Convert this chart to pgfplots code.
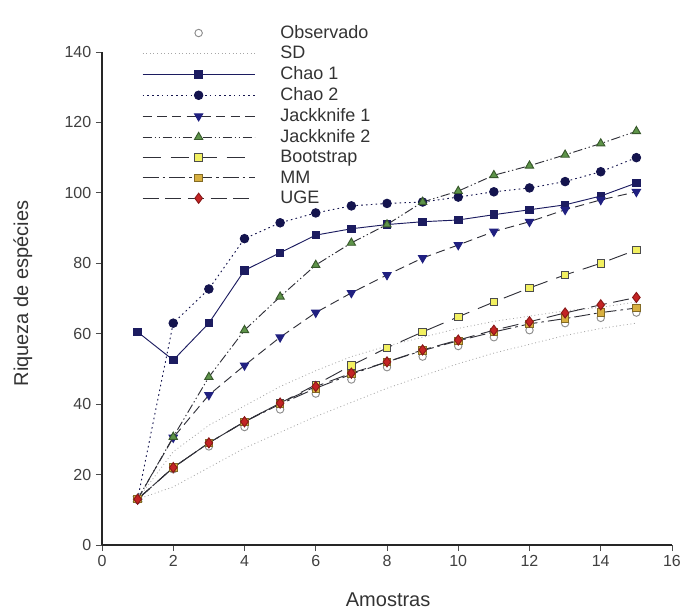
\documentclass[border=0pt]{standalone}
\usepackage{pgfplots}
\pgfplotsset{compat=1.18}
\usepackage{fontspec}
\setmainfont{Liberation Sans}

% series colours
\definecolor{navyA}{HTML}{1C1C60}
\definecolor{navyB}{HTML}{14144E}
\definecolor{jackblue}{HTML}{202080}
\definecolor{jackgreen}{HTML}{5E9449}
\definecolor{bootyel}{HTML}{F2F060}
\definecolor{mmgold}{HTML}{D8B040}
\definecolor{ugered}{HTML}{C42424}
\definecolor{linegray}{HTML}{303038}

\begin{document}
\begin{tikzpicture}
\useasboundingbox (-76.5pt,-52.5pt) rectangle (438pt,408.75pt);
\begin{axis}[
    scale only axis,
    width=427.5pt, height=369.75pt,
    xmin=0, xmax=16, ymin=0, ymax=140,
    xtick={0,2,...,16}, ytick={0,20,...,140},
    axis x line=bottom, axis y line=left,
    axis line style={-, line width=1pt, black!85},
    tick align=outside, major tick length=4.5pt,
    tick style={black!70, line width=0.6pt},
    tick label style={font=\fontsize{12}{14}\selectfont, text=black!75},
    /pgf/number format/assume math mode=true,
    xlabel={Amostras}, ylabel={Riqueza de espécies},
    every axis x label/.style={at={(axis description cs:0.502,-0.111)}, anchor=center,
        font=\fontsize{15}{17}\selectfont, text=black!80},
    every axis y label/.style={at={(axis description cs:-0.139,0.51)}, anchor=center, rotate=90,
        font=\fontsize{15}{17}\selectfont, text=black!80},
    clip=false,
    every axis plot/.append style={line width=0.7pt},
    legend image code/.code={\draw[mark repeat=2,mark phase=2,#1] plot coordinates {(0pt,0pt) (42pt,0pt) (84pt,0pt)};},
    legend style={at={(axis description cs:0.07,1.057)}, anchor=north west,
        draw=none, fill=none, inner sep=0pt, row sep=2.4pt, column sep=18pt,
        font=\fontsize{13.5}{14}\selectfont, text=black!80,
        nodes={inner sep=1pt}},
    legend cell align=left,
]
% Observado
\addplot[only marks, mark=o, mark size=2.8pt, black!45] coordinates {
    (1,13) (2,21.5) (3,28) (4,33.5) (5,38.5) (6,43) (7,47) (8,50.5) (9,53.5) (10,56.5) (11,59) (12,61) (13,63) (14,64.5) (15,66)
};
% SD (lower and upper)
\addplot[black!35, dotted, line width=0.6pt, mark=none] coordinates {
    (1,13) (2,16.5) (3,22) (4,27.5) (5,32) (6,36.5) (7,40.5) (8,44.5) (9,48) (10,51.5) (11,54.5) (12,57) (13,59.5) (14,61.5) (15,63)
};
\addplot[black!35, dotted, line width=0.6pt, mark=none, forget plot] coordinates {
    (1,13) (2,26.5) (3,34) (4,39.5) (5,45) (6,49.5) (7,53.5) (8,56.5) (9,59) (10,61.5) (11,63.5) (12,65) (13,66.5) (14,67.5) (15,69)
};
% Chao 1
\addplot[navyA, solid, mark=square*, mark size=2.8pt, mark options={fill=navyA, draw=navyA}] coordinates {
    (1,60.5) (2,52.5) (3,63) (4,78) (5,83) (6,88) (7,89.8) (8,91) (9,91.8) (10,92.3) (11,93.8) (12,95.2) (13,96.6) (14,99.1) (15,102.8)
};
% Chao 2
\addplot[navyB, dash pattern=on 1.2pt off 2.4pt, mark=*, mark size=3.2pt, mark options={solid, fill=navyB, draw=navyB}] coordinates {
    (1,13) (2,63) (3,72.7) (4,87) (5,91.5) (6,94.3) (7,96.3) (8,97) (9,97.4) (10,98.8) (11,100.3) (12,101.4) (13,103.2) (14,106) (15,110)
};
% Jackknife 1
\addplot[linegray, dash pattern=on 7pt off 4pt, mark=triangle*, mark size=3.6pt, mark options={solid, rotate=180, fill=jackblue, draw=jackblue}] coordinates {
    (1,13) (2,30.5) (3,42.6) (4,51) (5,59) (6,66) (7,71.6) (8,76.7) (9,81.5) (10,85.2) (11,89) (12,91.8) (13,95.2) (14,98) (15,100.3)
};
% Jackknife 2
\addplot[linegray, dash pattern=on 7pt off 2pt on 1pt off 2pt on 1pt off 2pt, mark=triangle*, mark size=3.6pt, mark options={solid, fill=jackgreen, draw=jackgreen!60!black}] coordinates {
    (1,13) (2,30.7) (3,47.7) (4,61) (5,70.5) (6,79.5) (7,85.8) (8,91) (9,97.4) (10,100.5) (11,105) (12,107.7) (13,110.8) (14,114) (15,117.5)
};
% Bootstrap
\addplot[linegray, dash pattern=on 14pt off 7pt, mark=square*, mark size=2.8pt, mark options={solid, fill=bootyel, draw=black!70}] coordinates {
    (1,13) (2,22) (3,29) (4,35) (5,40.3) (6,45.5) (7,51) (8,56) (9,60.5) (10,64.8) (11,69) (12,73) (13,76.7) (14,80) (15,83.8)
};
% MM
\addplot[linegray, dash pattern=on 12pt off 3pt on 2pt off 3pt, mark=square*, mark size=2.8pt, mark options={solid, fill=mmgold, draw=mmgold!60!black}] coordinates {
    (1,13) (2,22) (3,29) (4,35) (5,40) (6,44.5) (7,48.5) (8,52) (9,55.2) (10,58) (11,60.5) (12,62.8) (13,64.3) (14,66) (15,67.3)
};
% UGE
\addplot[linegray, dash pattern=on 12pt off 5pt, mark=diamond*, mark size=3.8pt, mark options={solid, fill=ugered, draw=ugered!70!black}] coordinates {
    (1,13) (2,22) (3,29) (4,35) (5,40.3) (6,45) (7,48.8) (8,52) (9,55.4) (10,58.2) (11,61) (12,63.4) (13,65.9) (14,68.2) (15,70.3)
};
\legend{Observado,SD,Chao 1,Chao 2,Jackknife 1,Jackknife 2,Bootstrap,MM,UGE}
\end{axis}
\end{tikzpicture}
\end{document}
